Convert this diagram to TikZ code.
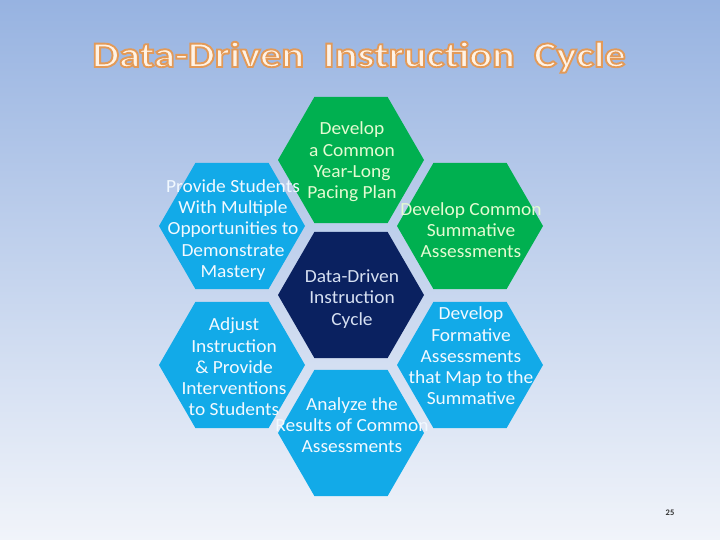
\documentclass[tikz,border=0pt]{standalone}
\usepackage{fontspec}
\setmainfont{Carlito}
\newfontfamily\titlefont[FakeStretch=1.18]{Carlito}
\newfontfamily\hexfont[FakeStretch=1.05]{Carlito}
\usetikzlibrary{shapes.geometric,calc}
\definecolor{hexgreen}{HTML}{00B050}
\definecolor{hexblue}{HTML}{12AAE8}
\definecolor{hexnavy}{HTML}{0A2160}
\definecolor{bgtop}{HTML}{97B3E1}
\definecolor{bgmid}{HTML}{C6D6EE}
\definecolor{bgbot}{HTML}{F1F4FA}
\definecolor{titlefill}{HTML}{FFF3E6}
\definecolor{titleedge}{HTML}{E39A58}
\definecolor{txtgreen}{HTML}{E4FBD2}
\definecolor{txtblue}{HTML}{F2F9FF}
\definecolor{txtnavy}{HTML}{D6E0F2}
\newcommand{\strokedtitle}[1]{{\color{titlefill}\special{pdf:literal direct 2 Tr 1.9 w 0.890 0.604 0.345 RG}#1\special{pdf:literal direct 0 Tr}}}
\tikzset{
  hexcell/.style={regular polygon, regular polygon sides=6, minimum size=146pt, inner sep=0pt, draw=none},
  hextext/.style={font=\hexfont\fontsize{18.5}{21.3}\selectfont, align=center, inner sep=0pt},
  titletext/.style={font=\titlefont\bfseries\fontsize{36}{40}\selectfont, anchor=base, inner sep=0pt}
}
\begin{document}
\begin{tikzpicture}[x=1pt,y=-1pt]
\useasboundingbox (0,0) rectangle (720,540);
\shade[top color=bgtop, middle color=bgmid, bottom color=bgbot] (0,0) rectangle (720,540);
% title
\node[titletext, text=titlefill] (title) at (359,67) {\strokedtitle{Data-Driven\ \ Instruction\ \ Cycle}};
% hexagons
\node[hexcell, fill=hexgreen] (htop) at (351,160) {};
\node[hexcell, fill=hexblue] (hul) at (232,226) {};
\node[hexcell, fill=hexgreen] (hur) at (470,226) {};
\node[hexcell, fill=hexnavy] (hc) at (351,295) {};
\node[hexcell, fill=hexblue] (hll) at (232,365) {};
\node[hexcell, fill=hexblue] (hlr) at (470,365) {};
\node[hexcell, fill=hexblue] (hb) at (351,433) {};
% texts
\node[hextext, text=txtgreen] (ttop) at (352,162) {Develop\\a Common\\Year-Long\\Pacing Plan};
\node[hextext, text=txtblue] (tul) at (233,230) {Provide Students\\With Multiple\\Opportunities to\\Demonstrate\\Mastery};
\node[hextext, text=txtgreen] (tur) at (471,230) {Develop Common\\Summative\\Assessments};
\node[hextext, text=txtnavy] (tc) at (352,299) {Data-Driven\\Instruction\\Cycle};
\node[hextext, text=txtblue] (tll) at (234,367) {Adjust\\Instruction\\\& Provide\\Interventions\\to Students};
\node[hextext, text=txtblue] (tlr) at (471,356) {Develop\\Formative\\Assessments\\that Map to the\\Summative};
\node[hextext, text=txtblue] (tb) at (352,425) {Analyze the\\Results of Common\\Assessments};
\node[font=\bfseries\fontsize{8.5}{9}\selectfont, text=black!80, inner sep=0pt] (pg) at (670,513) {25};
\end{tikzpicture}
\end{document}
